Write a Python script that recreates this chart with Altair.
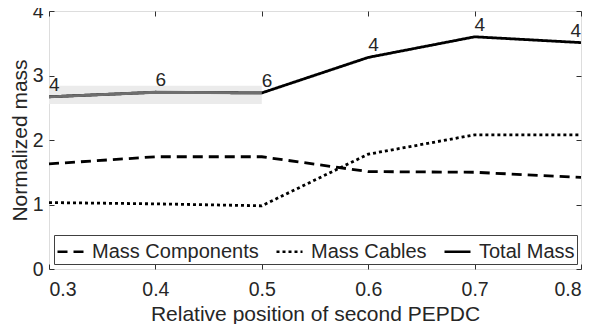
import altair as alt
import pandas as pd

positions = [0.3, 0.4, 0.5, 0.6, 0.7, 0.8]
mass_components = [1.63, 1.74, 1.74, 1.51, 1.50, 1.42]
mass_cables = [1.03, 1.01, 0.98, 1.78, 2.08, 2.08]
total_mass = [2.67, 2.74, 2.73, 3.28, 3.60, 3.51]
point_labels = ["4", "6", "6", "4", "4", "4"]
series_names = ["Mass Components", "Mass Cables", "Total Mass"]
band_x = [0.3, 0.5]
band_y = [2.56, 2.84]
highlight_positions = [0.3, 0.4, 0.5]
y_ticks = [0, 1, 2, 3, 4]

FONT = "Liberation Sans"
TXT = "#262626"

rows = []
for name, vals in zip(series_names, [mass_components, mass_cables, total_mass]):
    for p, v in zip(positions, vals):
        rows.append({"pos": p, "mass": v, "series": name})
lines_df = pd.DataFrame(rows)

hl_df = pd.DataFrame({"pos": [p for p in positions if p in highlight_positions],
                      "mass": [v for p, v in zip(positions, total_mass) if p in highlight_positions]})
lab_df = pd.DataFrame({"pos": positions, "mass": total_mass, "label": point_labels})
band_df = pd.DataFrame({"x": [band_x[0]], "x2": [band_x[1]], "y": [band_y[0]], "y2": [band_y[1]]})

xscale = alt.Scale(domain=[0.3, 0.8], nice=False, zero=False)
yscale = alt.Scale(domain=[0, 4], nice=False)

common_axis = dict(domain=False, ticks=True, tickSize=5, offset=-5, tickColor="#303030", tickWidth=1,
                   labelFont=FONT, labelColor=TXT, titleFont=FONT, titleColor=TXT,
                   titleFontWeight="normal", grid=False)

band = alt.Chart(band_df).mark_rect(color="#ebebeb").encode(
    x=alt.X("x:Q", scale=xscale,
            axis=alt.Axis(orient="top", labels=False, title=None, values=positions, **common_axis)),
    x2="x2:Q",
    y=alt.Y("y:Q", scale=yscale,
            axis=alt.Axis(orient="right", labels=False, title=None, values=y_ticks, **common_axis)),
    y2="y2:Q",
)

lines = alt.Chart(lines_df).mark_line(color="black", strokeWidth=2.8).encode(
    x=alt.X("pos:Q", scale=xscale,
            axis=alt.Axis(orient="bottom", values=positions, format=".1f", title="Relative position of second PEPDC",
                          labelFontSize=19.5, titleFontSize=21, labelPadding=11, titlePadding=5, **common_axis)),
    y=alt.Y("mass:Q", scale=yscale,
            axis=alt.Axis(orient="left", values=y_ticks, title="Normalized mass",
                          labelFontSize=19.5, titleFontSize=21, labelPadding=6, titlePadding=2, **common_axis)),
    strokeDash=alt.StrokeDash(
        "series:N",
        scale=alt.Scale(domain=series_names, range=[[10, 6], [3, 3], [1, 0]]),
        sort=series_names,
        legend=alt.Legend(
            title=None, orient="none", direction="horizontal", legendX=5, legendY=224,
            symbolType="stroke", symbolSize=676, symbolStrokeWidth=2.5, symbolStrokeColor="black",
            labelFont=FONT, labelFontSize=20, labelColor=TXT, labelOffset=7, labelLimit=400,
            columnPadding=12, padding=2, fillColor="white", strokeColor="#404040",
            symbolOffset=0,
        ),
    ),
    detail="series:N",
)

hl = alt.Chart(hl_df).mark_line(color="#6e6e6e", strokeWidth=2.8).encode(
    x=alt.X("pos:Q", scale=xscale, axis=None),
    y=alt.Y("mass:Q", scale=yscale, axis=None),
)

labs_left = alt.Chart(lab_df).transform_filter(alt.datum.pos < 0.75).mark_text(
    align="left", baseline="bottom", dy=-2, fontSize=19, font=FONT, color=TXT
).encode(
    x=alt.X("pos:Q", scale=xscale, axis=None),
    y=alt.Y("mass:Q", scale=yscale, axis=None),
    text="label:N",
)

labs_right = alt.Chart(lab_df).transform_filter(alt.datum.pos > 0.75).mark_text(
    align="right", baseline="bottom", dy=-2, fontSize=19, font=FONT, color=TXT
).encode(
    x=alt.X("pos:Q", scale=xscale, axis=None),
    y=alt.Y("mass:Q", scale=yscale, axis=None),
    text="label:N",
)

chart = alt.layer(band, lines, hl, labs_left, labs_right).resolve_axis(
    x="independent", y="independent"
).properties(
    width=532, height=258,
    autosize=alt.AutoSizeParams(type="none"),
    padding={"left": 41, "top": 3, "right": 7, "bottom": 55},
).configure_view(stroke="#404040", strokeWidth=1).configure(background="white")

chart.save("out.html", embed_options={"renderer": "svg", "actions": False})
